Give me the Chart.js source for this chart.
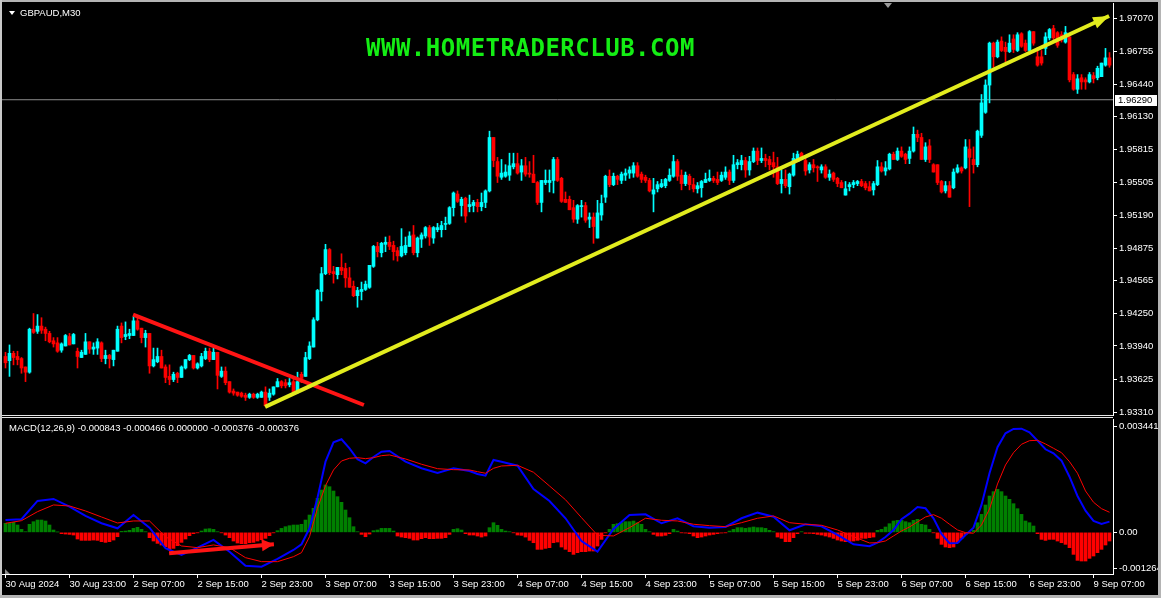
<!DOCTYPE html>
<html>
<head>
<meta charset="utf-8">
<title>GBPAUD,M30</title>
<script src="https://cdn.jsdelivr.net/npm/chart.js"></script>
<style>
  html, body { margin: 0; padding: 0; background: #000; }
  #wrap { position: relative; width: 1161px; height: 598px; overflow: hidden; background: #000; }
  #wrap canvas { position: absolute; left: 0; }
  #main { top: 0; }
  #macd { top: 417px; }
  .lbl { position: absolute; color: #fff; font: 9.5px "Liberation Sans", Arial, sans-serif; line-height: 11px; white-space: pre; }
  .ln { position: absolute; }
  #wm { position: absolute; left: 366px; top: 36px; color: #14ee14; font: bold 24px "DejaVu Sans Mono", monospace; letter-spacing: 0.5px; line-height: 24px; white-space: pre; }
  .tri { position: absolute; width: 0; height: 0; }
</style>
</head>
<body>
<div id="wrap">
  <canvas id="main" width="1161" height="417"></canvas>
  <canvas id="macd" width="1161" height="181"></canvas>

  <!-- window frame and panel separators -->
  <div class="ln" style="left:0;top:0;width:1161px;height:2px;background:#b4b4b4"></div>
  <div class="ln" style="left:0;top:0;width:2px;height:598px;background:#c8c8c8"></div>
  <div class="ln" style="left:1158px;top:0;width:3px;height:598px;background:#b4b4b4"></div>
  <div class="ln" style="left:0;top:595px;width:1161px;height:3px;background:#b4b4b4"></div>
  <div class="ln" style="left:2px;top:415px;width:1111px;height:1px;background:#e6e6e6"></div>
  <div class="ln" style="left:2px;top:417px;width:1111px;height:1px;background:#e6e6e6"></div>

  <div class="tri" style="left:9px;top:11px;border-left:3px solid transparent;border-right:3px solid transparent;border-top:4px solid #fff"></div>
  <div class="lbl" style="left:20px;top:7px">GBPAUD,M30</div>
  <div class="tri" style="left:884px;top:3px;border-left:4px solid transparent;border-right:4px solid transparent;border-top:5px solid #9a9a9a"></div>
  <div id="wm">WWW.HOMETRADERCLUB.COM</div>
  <div class="lbl" style="left:9px;top:422px">MACD(12,26,9) -0.000843 -0.000466 0.000000 -0.000376 -0.000376</div>
  <div class="tri" style="left:5px;top:569px;border-right:5px solid transparent;border-bottom:5px solid #8a8a8a"></div>
</div>

<script>
// ---- data: GBPAUD M30 candles, bar 0 = 30 Aug 2024 15:00 ----
const opens = [1.9384,1.9380,1.9387,1.9384,1.9382,1.9374,1.9369,1.9410,1.9408,1.9413,
1.9410,1.9406,1.9399,1.9397,1.9390,1.9394,1.9403,1.9396,1.9389,1.9383,
1.9386,1.9398,1.9391,1.9392,1.9397,1.9382,1.9385,1.9381,1.9389,1.9413,
1.9403,1.9404,1.9404,1.9418,1.9411,1.9402,1.9406,1.9375,1.9379,1.9384,
1.9374,1.9365,1.9362,1.9368,1.9364,1.9373,1.9381,1.9385,1.9373,1.9375,
1.9382,1.9389,1.9381,1.9388,1.9365,1.9370,1.9360,1.9351,1.9350,1.9349,
1.9347,1.9345,1.9348,1.9345,1.9345,1.9350,1.9345,1.9348,1.9355,1.9360,
1.9359,1.9357,1.9360,1.9350,1.9367,1.9365,1.9382,1.9393,1.9419,1.9446,
1.9463,1.9486,1.9465,1.9462,1.9469,1.9468,1.9459,1.9451,1.9442,1.9446,
1.9448,1.9450,1.9470,1.9489,1.9483,1.9491,1.9493,1.9490,1.9485,1.9480,
1.9483,1.9489,1.9500,1.9483,1.9496,1.9499,1.9507,1.9497,1.9505,1.9505,
1.9510,1.9511,1.9526,1.9539,1.9528,1.9535,1.9527,1.9528,1.9531,1.9527,
1.9531,1.9542,1.9593,1.9570,1.9555,1.9556,1.9557,1.9565,1.9568,1.9560,
1.9566,1.9559,1.9558,1.9550,1.9531,1.9550,1.9550,1.9552,1.9572,1.9554,
1.9534,1.9534,1.9526,1.9515,1.9527,1.9528,1.9515,1.9517,1.9497,1.9519,
1.9536,1.9556,1.9548,1.9556,1.9552,1.9557,1.9559,1.9559,1.9566,1.9558,
1.9555,1.9552,1.9539,1.9544,1.9546,1.9547,1.9552,1.9556,1.9570,1.9557,
1.9549,1.9556,1.9548,1.9544,1.9545,1.9550,1.9552,1.9554,1.9553,1.9552,
1.9555,1.9560,1.9552,1.9567,1.9567,1.9571,1.9562,1.9570,1.9580,1.9571,
1.9573,1.9572,1.9569,1.9565,1.9549,1.9553,1.9546,1.9557,1.9570,1.9578,
1.9571,1.9562,1.9567,1.9565,1.9562,1.9565,1.9555,1.9559,1.9554,1.9550,
1.9538,1.9546,1.9548,1.9549,1.9551,1.9549,1.9546,1.9543,1.9548,1.9565,
1.9561,1.9563,1.9577,1.9572,1.9580,1.9577,1.9573,1.9580,1.9596,1.9593,
1.9572,1.9585,1.9567,1.9567,1.9551,1.9542,1.9547,1.9545,1.9560,1.9564,
1.9564,1.9582,1.9572,1.9567,1.9595,1.9617,1.9643,1.9683,1.9670,1.9685,
1.9679,1.9675,1.9687,1.9676,1.9692,1.9683,1.9676,1.9694,1.9670,1.9670,
1.9678,1.9688,1.9697,1.9693,1.9691,1.9684,1.9689,1.9653,1.9639,1.9650,
1.9648,1.9646,1.9652,1.9650,1.9651,1.9662,1.9669];

const highs = [1.9388,1.9395,1.9389,1.9389,1.9383,1.9374,1.9411,1.9425,1.9424,1.9421,
1.9412,1.9408,1.9402,1.9402,1.9397,1.9405,1.9406,1.9406,1.9392,1.9390,
1.9406,1.9398,1.9397,1.9401,1.9398,1.9390,1.9386,1.9390,1.9413,1.9416,
1.9417,1.9410,1.9422,1.9421,1.9411,1.9409,1.9406,1.9392,1.9392,1.9390,
1.9376,1.9376,1.9369,1.9369,1.9375,1.9381,1.9386,1.9385,1.9378,1.9387,
1.9392,1.9392,1.9392,1.9388,1.9374,1.9374,1.9360,1.9353,1.9350,1.9350,
1.9349,1.9349,1.9349,1.9349,1.9351,1.9355,1.9353,1.9355,1.9363,1.9361,
1.9362,1.9363,1.9365,1.9369,1.9369,1.9388,1.9398,1.9421,1.9448,1.9469,
1.9491,1.9487,1.9470,1.9469,1.9482,1.9473,1.9469,1.9456,1.9450,1.9455,
1.9456,1.9471,1.9490,1.9493,1.9493,1.9498,1.9499,1.9494,1.9488,1.9506,
1.9498,1.9503,1.9509,1.9498,1.9502,1.9508,1.9509,1.9508,1.9511,1.9513,
1.9517,1.9527,1.9541,1.9542,1.9536,1.9536,1.9538,1.9533,1.9534,1.9540,
1.9543,1.9599,1.9593,1.9574,1.9572,1.9567,1.9578,1.9578,1.9578,1.9572,
1.9574,1.9570,1.9576,1.9551,1.9552,1.9562,1.9562,1.9574,1.9574,1.9555,
1.9541,1.9537,1.9533,1.9529,1.9533,1.9531,1.9521,1.9521,1.9533,1.9538,
1.9557,1.9562,1.9559,1.9557,1.9560,1.9563,1.9565,1.9569,1.9569,1.9560,
1.9557,1.9554,1.9554,1.9551,1.9553,1.9554,1.9563,1.9576,1.9572,1.9562,
1.9560,1.9558,1.9554,1.9550,1.9552,1.9559,1.9562,1.9556,1.9560,1.9560,
1.9565,1.9562,1.9576,1.9572,1.9576,1.9574,1.9575,1.9583,1.9583,1.9583,
1.9577,1.9575,1.9579,1.9574,1.9562,1.9562,1.9559,1.9578,1.9580,1.9579,
1.9573,1.9569,1.9572,1.9566,1.9567,1.9567,1.9562,1.9560,1.9555,1.9552,
1.9551,1.9550,1.9552,1.9552,1.9553,1.9551,1.9551,1.9551,1.9571,1.9569,
1.9570,1.9578,1.9579,1.9583,1.9584,1.9578,1.9584,1.9603,1.9600,1.9597,
1.9588,1.9591,1.9568,1.9567,1.9552,1.9551,1.9551,1.9563,1.9567,1.9565,
1.9591,1.9591,1.9584,1.9600,1.9634,1.9648,1.9684,1.9684,1.9686,1.9689,
1.9684,1.9691,1.9691,1.9693,1.9693,1.9686,1.9695,1.9694,1.9679,1.9676,
1.9693,1.9697,1.9700,1.9694,1.9694,1.9699,1.9691,1.9655,1.9653,1.9653,
1.9650,1.9655,1.9655,1.9661,1.9664,1.9678,1.9674];

const lows = [1.9373,1.9365,1.9376,1.9376,1.9368,1.9360,1.9368,1.9406,1.9406,1.9406,
1.9399,1.9397,1.9393,1.9388,1.9388,1.9394,1.9395,1.9396,1.9373,1.9383,
1.9386,1.9387,1.9386,1.9386,1.9379,1.9377,1.9373,1.9375,1.9389,1.9397,
1.9400,1.9401,1.9404,1.9409,1.9397,1.9393,1.9368,1.9374,1.9378,1.9373,
1.9359,1.9357,1.9360,1.9359,1.9364,1.9372,1.9380,1.9372,1.9372,1.9374,
1.9381,1.9379,1.9381,1.9353,1.9364,1.9357,1.9349,1.9347,1.9346,1.9345,
1.9342,1.9344,1.9344,1.9344,1.9345,1.9336,1.9342,1.9347,1.9355,1.9354,
1.9354,1.9355,1.9349,1.9349,1.9359,1.9365,1.9381,1.9393,1.9418,1.9437,
1.9462,1.9462,1.9454,1.9458,1.9462,1.9450,1.9450,1.9441,1.9431,1.9438,
1.9447,1.9449,1.9469,1.9479,1.9479,1.9484,1.9486,1.9476,1.9475,1.9479,
1.9481,1.9489,1.9481,1.9479,1.9488,1.9497,1.9490,1.9492,1.9503,1.9498,
1.9505,1.9510,1.9518,1.9531,1.9518,1.9512,1.9522,1.9522,1.9522,1.9523,
1.9526,1.9541,1.9565,1.9550,1.9553,1.9555,1.9552,1.9563,1.9558,1.9552,
1.9556,1.9555,1.9550,1.9529,1.9522,1.9548,1.9541,1.9540,1.9551,1.9531,
1.9531,1.9524,1.9512,1.9511,1.9517,1.9512,1.9507,1.9492,1.9497,1.9514,
1.9531,1.9546,1.9547,1.9548,1.9549,1.9552,1.9554,1.9555,1.9555,1.9550,
1.9550,1.9541,1.9522,1.9541,1.9545,1.9545,1.9551,1.9555,1.9552,1.9543,
1.9547,1.9543,1.9541,1.9540,1.9536,1.9550,1.9551,1.9550,1.9548,1.9551,
1.9553,1.9548,1.9550,1.9563,1.9562,1.9555,1.9557,1.9569,1.9567,1.9569,
1.9565,1.9562,1.9555,1.9548,1.9540,1.9545,1.9539,1.9556,1.9570,1.9572,
1.9557,1.9559,1.9560,1.9551,1.9559,1.9554,1.9552,1.9551,1.9546,1.9545,
1.9538,1.9542,1.9545,1.9547,1.9546,1.9543,1.9542,1.9538,1.9547,1.9560,
1.9557,1.9562,1.9572,1.9571,1.9574,1.9568,1.9568,1.9579,1.9589,1.9572,
1.9570,1.9569,1.9560,1.9548,1.9540,1.9540,1.9536,1.9544,1.9559,1.9559,
1.9563,1.9527,1.9559,1.9565,1.9593,1.9616,1.9626,1.9660,1.9669,1.9675,
1.9665,1.9674,1.9674,1.9675,1.9679,1.9675,1.9675,1.9681,1.9661,1.9662,
1.9672,1.9686,1.9684,1.9679,1.9684,1.9683,1.9646,1.9638,1.9635,1.9639,
1.9639,1.9645,1.9645,1.9648,1.9651,1.9661,1.9660];

const closes = [1.9378,1.9387,1.9383,1.9381,1.9373,1.9369,1.9410,1.9407,1.9413,1.9409,
1.9406,1.9398,1.9396,1.9389,1.9396,1.9404,1.9395,1.9405,1.9384,1.9388,
1.9398,1.9391,1.9393,1.9398,1.9382,1.9385,1.9382,1.9390,1.9410,1.9402,
1.9405,1.9406,1.9418,1.9410,1.9402,1.9406,1.9375,1.9381,1.9384,1.9373,
1.9364,1.9362,1.9367,1.9364,1.9374,1.9381,1.9385,1.9373,1.9377,1.9384,
1.9389,1.9381,1.9388,1.9366,1.9370,1.9359,1.9350,1.9349,1.9347,1.9346,
1.9345,1.9348,1.9345,1.9348,1.9350,1.9337,1.9349,1.9355,1.9360,1.9356,
1.9356,1.9359,1.9350,1.9360,1.9363,1.9383,1.9394,1.9419,1.9447,1.9463,
1.9486,1.9464,1.9463,1.9469,1.9466,1.9459,1.9450,1.9442,1.9447,1.9448,
1.9453,1.9471,1.9489,1.9484,1.9492,1.9493,1.9489,1.9484,1.9480,1.9489,
1.9490,1.9499,1.9483,1.9497,1.9500,1.9507,1.9498,1.9507,1.9507,1.9509,
1.9511,1.9526,1.9540,1.9532,1.9534,1.9518,1.9529,1.9531,1.9527,1.9531,
1.9542,1.9593,1.9571,1.9556,1.9559,1.9560,1.9566,1.9568,1.9559,1.9566,
1.9558,1.9558,1.9550,1.9531,1.9552,1.9552,1.9552,1.9572,1.9552,1.9532,
1.9531,1.9524,1.9515,1.9528,1.9528,1.9514,1.9517,1.9508,1.9521,1.9530,
1.9556,1.9548,1.9556,1.9553,1.9558,1.9559,1.9562,1.9566,1.9556,1.9553,
1.9552,1.9542,1.9543,1.9548,1.9549,1.9553,1.9557,1.9570,1.9556,1.9549,
1.9557,1.9548,1.9544,1.9547,1.9551,1.9553,1.9554,1.9552,1.9550,1.9557,
1.9560,1.9552,1.9567,1.9569,1.9571,1.9562,1.9570,1.9580,1.9571,1.9573,
1.9571,1.9567,1.9565,1.9549,1.9553,1.9547,1.9558,1.9573,1.9577,1.9573,
1.9561,1.9567,1.9564,1.9564,1.9565,1.9555,1.9558,1.9553,1.9549,1.9545,
1.9544,1.9548,1.9550,1.9551,1.9547,1.9545,1.9542,1.9549,1.9565,1.9561,
1.9564,1.9577,1.9572,1.9580,1.9575,1.9572,1.9580,1.9596,1.9593,1.9572,
1.9584,1.9572,1.9560,1.9550,1.9541,1.9547,1.9536,1.9560,1.9564,1.9561,
1.9584,1.9574,1.9567,1.9599,1.9626,1.9643,1.9683,1.9670,1.9684,1.9676,
1.9675,1.9683,1.9677,1.9691,1.9680,1.9676,1.9694,1.9683,1.9662,1.9664,
1.9689,1.9696,1.9688,1.9681,1.9686,1.9693,1.9648,1.9639,1.9649,1.9646,
1.9646,1.9653,1.9649,1.9659,1.9664,1.9669,1.9662];

// MACD(12,26,9) histogram, one value per bar
const macdHist = [0.000273,0.000273,0.000304,0.000223,0.000091,0.00002,0.000243,0.000324,0.000374,0.000374,
0.000344,0.000223,0.000071,0.00001,-0.00004,-0.000051,-0.000061,-0.000081,-0.000202,-0.000243,
-0.000243,-0.000243,-0.000233,-0.000243,-0.000283,-0.000304,-0.000283,-0.000233,-0.000132,0.00003,
0.00004,0.000061,0.000121,0.000152,0.000091,0.00002,-0.000162,-0.000263,-0.000334,-0.000384,
-0.000435,-0.000536,-0.000486,-0.000405,-0.000304,-0.000202,-0.000101,-0.00004,-0.00001,0.00004,
0.000101,0.000111,0.000091,0.00002,-0.00001,-0.000081,-0.000162,-0.000263,-0.000324,-0.000344,
-0.000344,-0.000314,-0.000304,-0.000263,-0.000223,-0.000182,-0.000101,-0.00001,0.000051,0.000121,
0.000172,0.000202,0.000223,0.000223,0.000243,0.000374,0.000526,0.000729,0.001032,0.001285,
0.001437,0.001386,0.001255,0.001083,0.000911,0.000678,0.000445,0.000172,0.00002,-0.000061,
-0.000132,-0.000051,0.000051,0.000071,0.000121,0.000121,0.000121,0.00004,-0.000111,-0.000142,
-0.000162,-0.000182,-0.000233,-0.000233,-0.000192,-0.000162,-0.000192,-0.000192,-0.000182,-0.000182,
-0.000162,-0.000061,0.000091,0.000111,0.000071,-0.00004,-0.000081,-0.000081,-0.000111,-0.000142,
-0.000111,0.000142,0.000293,0.000213,0.000091,0.00004,0.00002,-0.00001,-0.000081,-0.000091,
-0.000142,-0.000243,-0.000314,-0.000516,-0.000516,-0.000486,-0.000465,-0.000314,-0.000293,-0.000445,
-0.000516,-0.000587,-0.000668,-0.000617,-0.000587,-0.000587,-0.000567,-0.000567,-0.000415,-0.000213,
-0.00001,0.000091,0.000243,0.000263,0.000293,0.000324,0.000324,0.000344,0.000293,0.000243,
0.000091,0.00002,-0.000061,-0.000111,-0.000111,-0.000091,-0.00004,0.000091,0.00004,-0.00001,
-0.00002,-0.00004,-0.000111,-0.000162,-0.000142,-0.000111,-0.000081,-0.000061,-0.00004,-0.00002,
-0.00001,0.00004,0.000091,0.000142,0.000142,0.000121,0.000142,0.000162,0.000142,0.000142,
0.000121,0.000061,0.00002,-0.000142,-0.000182,-0.000283,-0.000283,-0.000162,-0.00004,0.00002,
-0.00003,-0.00003,-0.00004,-0.000061,-0.000081,-0.000111,-0.000142,-0.000182,-0.000233,-0.000263,
-0.000283,-0.000283,-0.000263,-0.000243,-0.000182,-0.000182,-0.000162,-0.000142,0.000061,0.000091,
0.000162,0.000263,0.000344,0.000364,0.000364,0.000324,0.000293,0.000364,0.000395,0.000243,
0.000223,0.000091,-0.00001,-0.000182,-0.000364,-0.000445,-0.000465,-0.000445,-0.000314,-0.000182,
-0.000061,-0.00001,0.000061,0.000293,0.000546,0.00083,0.001103,0.001235,0.001306,0.001235,
0.001103,0.001002,0.00087,0.000718,0.000546,0.000344,0.000293,0.000192,-0.00004,-0.000213,
-0.000243,-0.000213,-0.000213,-0.000263,-0.000314,-0.000364,-0.000465,-0.000668,-0.00085,-0.00087,
-0.00087,-0.000789,-0.000718,-0.000617,-0.000516,-0.000384,-0.000263];

// MACD main and signal lines, read at these bars
const macdBars = [0,4,8,12,16,20,24,28,32,36,40,44,48,52,56,60,64,68,72,74,76,78,80,82,84,86,88,90,92,94,96,
100,104,108,112,116,118,120,122,124,128,132,136,140,144,148,152,156,160,164,168,172,176,180,184,188,192,
196,200,204,208,212,216,218,220,222,224,226,228,230,232,234,236,238,240,242,244,246,248,250,252,254,256,
258,260,262,264,266,268,270,272,274,276];
const macdMain = [0.000376,0.000398,0.000953,0.001014,0.00078,0.000498,0.000276,0.000124,0.000528,0.000143,
-0.000483,-0.000686,-0.000464,-0.000231,-0.000586,-0.001011,-0.001041,-0.000807,-0.000534,-0.000361,
0.000124,0.001053,0.002146,0.002735,0.002826,0.002552,0.002219,0.002097,0.002288,0.002449,0.00247,
0.002146,0.001945,0.001803,0.001945,0.001863,0.001772,0.001721,0.002197,0.002146,0.002024,0.001317,
0.000953,0.000428,-0.000261,-0.000586,0.000103,0.000528,0.000549,0.000276,0.000428,0.000185,0.000143,
0.000164,0.000428,0.000598,0.000476,
0.000064,0.000246,0.000185,-0.000079,-0.000361,-0.000422,-0.000313,-0.00014,0.000073,0.000398,0.000568,
0.000771,0.000731,0.000428,-0.000049,-0.000331,-0.000322,-0.000079,0.000143,0.000832,0.001794,0.002583,
0.003008,0.003138,0.003147,0.003038,0.002783,0.002522,0.002401,0.002176,0.00169,0.001105,0.000659,
0.000346,0.000255,0.000325];
const macdSignal = [0.000276,0.000355,0.000628,0.000832,0.000801,0.00065,0.000467,0.000285,0.000346,0.000346,
-0.000131,-0.000413,-0.000464,-0.000382,-0.000464,-0.000768,-0.000889,-0.000889,-0.000738,-0.000616,
-0.000131,0.000731,0.001417,0.001894,0.002167,0.002249,0.002267,0.002237,0.002267,0.002328,0.00235,
0.002228,0.002067,0.001933,0.001903,0.001894,0.001842,0.001794,0.001945,0.002015,0.002036,0.001824,
0.001408,0.00099,0.000446,-0.000088,-0.000109,0.000143,0.000428,0.000367,0.000346,0.000246,0.000203,
0.000173,0.000294,0.000428,0.000498,
0.000294,0.000246,0.000215,0.000073,-0.000131,-0.000322,-0.000313,-0.000261,-0.000109,0.000042,0.000164,
0.000316,0.000467,0.000537,0.000428,0.000246,0.000073,-0.000009,-0.000027,0.000225,0.00071,0.001469,
0.002046,0.002419,0.002674,0.002783,0.002795,0.002683,0.002552,0.002419,0.002146,0.001794,0.001256,
0.000914,0.000719,0.00061];

// axes
const priceTicks = [1.97070,1.96755,1.96440,1.96130,1.95815,1.95505,1.95190,1.94875,1.94565,1.94250,1.93940,1.93625,1.93310];
const priceMin = 1.932815, priceMax = 1.972132;
const lastPrice = 1.96290;
const macdMin = -0.001264, macdMax = 0.003441;
const macdTickLabels = ['0.003441', '0.00', '-0.001264'];
const timeLabels = ['30 Aug 2024','30 Aug 23:00','2 Sep 07:00','2 Sep 15:00','2 Sep 23:00','3 Sep 07:00',
  '3 Sep 15:00','3 Sep 23:00','4 Sep 07:00','4 Sep 15:00','4 Sep 23:00','5 Sep 07:00','5 Sep 15:00',
  '5 Sep 23:00','6 Sep 07:00','6 Sep 15:00','6 Sep 23:00','9 Sep 07:00'];
const timeLabelBars = [0,16,32,48,64,80,96,112,128,144,160,176,192,208,224,240,256,272];

// hand drawn objects: [bar, price] end points
const downTrend = [[31.9, 1.94239], [89.6, 1.93377]];
const upTrend = [[64.9, 1.93359], [275.9, 1.97089]];
const macdArrow = [[40.9, -0.000634], [67.1, -0.000361]];

// ---- chart ----
const FONT = '"Liberation Sans", Arial, sans-serif';
const UP = '#00ffff', DOWN = '#ff0000';
const xMin = -0.875, xMax = 276.875;
const bars = opens.map((o, i) => i);
const candleColors = opens.map((o, i) => closes[i] >= o ? UP : DOWN);

// keep the plot area where it is: no room reserved for edge labels
const fixWidth = s => { s.width = 48; s.paddingTop = 0; s.paddingBottom = 0; };
const fixHeight = s => { s.height = 24; s.paddingLeft = 0; s.paddingRight = 0; };

const arrowHeads = {
  id: 'arrowHeads',
  afterDatasetsDraw(chart) {
    const ctx = chart.ctx;
    chart.data.datasets.forEach((ds, i) => {
      if (!ds.arrowLen) return;
      const pts = chart.getDatasetMeta(i).data;
      const a = pts[pts.length - 2], b = pts[pts.length - 1];
      const ang = Math.atan2(b.y - a.y, b.x - a.x);
      const L = ds.arrowLen, W = ds.arrowHalf;
      const bx = b.x - L * Math.cos(ang), by = b.y - L * Math.sin(ang);
      ctx.save();
      ctx.fillStyle = ds.borderColor;
      ctx.beginPath();
      ctx.moveTo(b.x, b.y);
      ctx.lineTo(bx + W * Math.sin(ang), by - W * Math.cos(ang));
      ctx.lineTo(bx - W * Math.sin(ang), by + W * Math.cos(ang));
      ctx.closePath();
      ctx.fill();
      ctx.restore();
    });
  }
};

const priceTag = {
  id: 'priceTag',
  afterDraw(chart) {
    const ctx = chart.ctx;
    const y = Math.round(chart.scales.y.getPixelForValue(lastPrice));
    const x = chart.chartArea.right;
    ctx.save();
    ctx.fillStyle = '#fff';
    ctx.fillRect(x + 2, y - 5, 42, 11);
    ctx.fillStyle = '#000';
    ctx.font = '9.5px ' + FONT;
    ctx.textBaseline = 'middle';
    ctx.fillText(lastPrice.toFixed(5), x + 5, y + 0.5);
    ctx.restore();
  }
};

const seg = (pts) => pts.map(p => ({x: p[0], y: p[1]}));

new Chart(document.getElementById('main'), {
  type: 'bar',
  data: {
    datasets: [
      { type: 'line', data: seg(upTrend), borderColor: '#e2ec1e', borderWidth: 4, pointRadius: 0, order: 0, arrowLen: 16, arrowHalf: 6 },
      { type: 'line', data: seg(downTrend), borderColor: '#ff1414', borderWidth: 4, pointRadius: 0, order: 1 },
      { data: bars.map(i => ({x: i, y: [opens[i], closes[i]]})), backgroundColor: candleColors,
        barThickness: 3, maxBarThickness: 3, minBarLength: 1, grouped: false, order: 2 },
      { data: bars.map(i => ({x: i, y: [lows[i], highs[i]]})), backgroundColor: candleColors,
        barThickness: 1, maxBarThickness: 1, grouped: false, order: 3 },
      { type: 'line', data: [{x: xMin, y: lastPrice}, {x: xMax, y: lastPrice}], borderColor: '#8c8c8c',
        borderWidth: 1, pointRadius: 0, order: 4 }
    ]
  },
  options: {
    responsive: false, animation: false, devicePixelRatio: 1, events: [],
    layout: { autoPadding: false, padding: { left: 2, right: 0, top: 3, bottom: 2 } },
    plugins: { legend: { display: false }, tooltip: { enabled: false } },
    scales: {
      x: { type: 'linear', min: xMin, max: xMax, offset: false, display: false },
      y: {
        position: 'right', min: priceMin, max: priceMax,
        afterFit: fixWidth,
        afterBuildTicks: s => { s.ticks = priceTicks.map(v => ({value: v})); },
        ticks: { autoSkip: false, color: '#fff', font: { family: FONT, size: 9.5 }, padding: 2,
          callback: v => v.toFixed(5) },
        grid: { drawOnChartArea: false, drawTicks: true, tickLength: 4, color: '#fff' },
        border: { display: true, color: '#fff' }
      }
    }
  },
  plugins: [arrowHeads, priceTag]
});

new Chart(document.getElementById('macd'), {
  type: 'bar',
  data: {
    datasets: [
      { type: 'line', data: seg(macdArrow), borderColor: '#ff1414', borderWidth: 4, pointRadius: 0, order: 0, arrowLen: 12, arrowHalf: 6 },
      { type: 'line', data: macdBars.map((b, k) => ({x: b, y: macdSignal[k]})), borderColor: '#ff0000', borderWidth: 1, pointRadius: 0, order: 1 },
      { type: 'line', data: macdBars.map((b, k) => ({x: b, y: macdMain[k]})), borderColor: '#0000ff', borderWidth: 2, pointRadius: 0, order: 2 },
      { data: bars.map(i => ({x: i, y: macdHist[i]})), backgroundColor: macdHist.map(v => v > 0 ? '#008000' : '#ff0000'),
        barThickness: 3, maxBarThickness: 3, grouped: false, order: 3 }
    ]
  },
  options: {
    responsive: false, animation: false, devicePixelRatio: 1, events: [],
    layout: { autoPadding: false, padding: { left: 2, right: 0, top: 2, bottom: 0 } },
    plugins: { legend: { display: false }, tooltip: { enabled: false } },
    scales: {
      x: {
        type: 'linear', min: xMin, max: xMax, offset: false, position: 'bottom',
        afterFit: fixHeight,
        afterBuildTicks: s => { s.ticks = timeLabelBars.map(v => ({value: v})); },
        ticks: { autoSkip: false, maxRotation: 0, align: 'start', color: '#fff', padding: 1,
          font: { family: FONT, size: 9.5 }, callback: (v, i) => timeLabels[i] },
        grid: { drawOnChartArea: false, drawTicks: true, tickLength: 4, color: '#fff', offset: false },
        border: { display: true, color: '#fff' }
      },
      y: {
        position: 'right', min: macdMin, max: macdMax,
        afterFit: fixWidth,
        afterBuildTicks: s => {
          const k = (macdMax - macdMin) / 155;
          s.ticks = [{value: macdMax - 7 * k}, {value: 0}, {value: macdMin + 6 * k}];
        },
        ticks: { autoSkip: false, color: '#fff', font: { family: FONT, size: 9.5 }, padding: 2,
          callback: (v, i) => macdTickLabels[i] },
        grid: { drawOnChartArea: false, drawTicks: true, tickLength: 4, color: '#fff' },
        border: { display: true, color: '#fff' }
      }
    }
  },
  plugins: [arrowHeads]
});
</script>
</body>
</html>
